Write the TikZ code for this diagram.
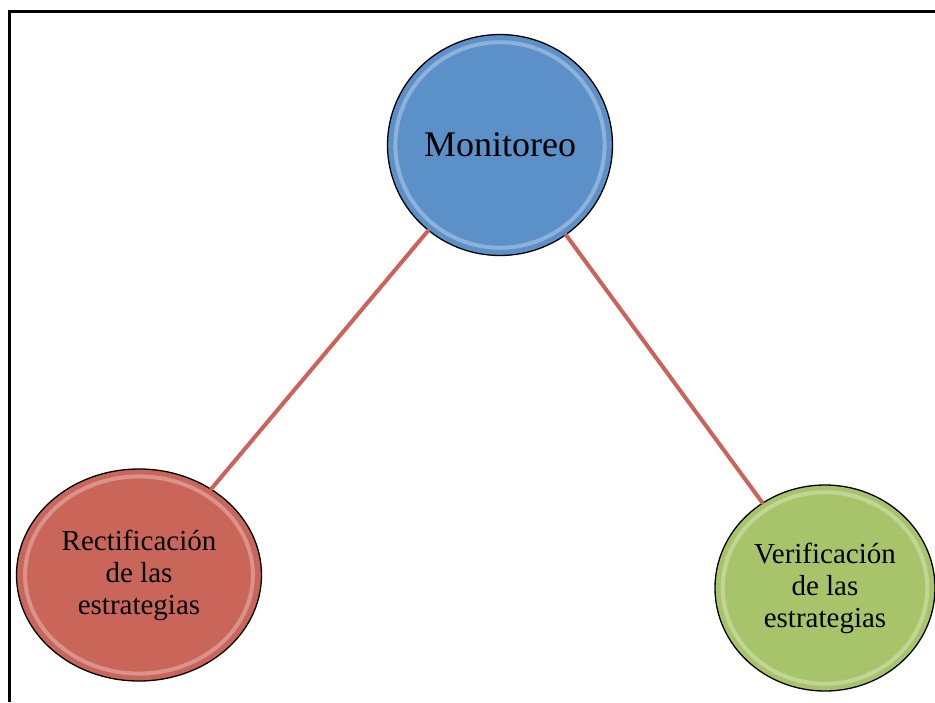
\documentclass[tikz,border=0pt]{standalone}
\usepackage{fontspec}
\setmainfont{Liberation Serif}
\usetikzlibrary{shapes.geometric}
\definecolor{monblue}{RGB}{92,144,200}
\definecolor{recred}{RGB}{202,101,90}
\definecolor{vergreen}{RGB}{168,196,106}
\definecolor{linkred}{RGB}{206,98,88}

\begin{document}
\begin{tikzpicture}[x=1pt,y=-1pt,line cap=round,
  bubble/.style={ellipse,draw=black,line width=1.3pt,align=center,inner sep=0pt,
    path picture={\draw[white,opacity=0.3,line width=4pt]
      (path picture bounding box.center) ellipse [x radius=0.465*\pgfkeysvalueof{/pgf/minimum width},
      y radius=0.465*\pgfkeysvalueof{/pgf/minimum height}];}},
  link/.style={draw=linkred,line width=4pt}]
\useasboundingbox (0,0) rectangle (935,702);
\fill[white] (0,0) rectangle (935,702);
% frame
\draw[line width=3pt,line cap=butt] (9.5,702) -- (9.5,11.5) -- (935,11.5);
% the three bubbles
\node[bubble,fill=monblue,minimum width=225,minimum height=221,font=\fontsize{36}{40}\selectfont]
  (mon) at (500,145) {Monitoreo};
\node[bubble,fill=recred,minimum width=245,minimum height=212,font=\fontsize{29}{32}\selectfont]
  (rec) at (139,575) {Rectificación\\de las\\estrategias};
\node[bubble,fill=vergreen,minimum width=220,minimum height=206,font=\fontsize{29}{32}\selectfont]
  (ver) at (825,588) {Verificación\\de las\\estrategias};
% links
\draw[link] (mon) -- (rec);
\draw[link] (mon) -- (ver);
\end{tikzpicture}
\end{document}
